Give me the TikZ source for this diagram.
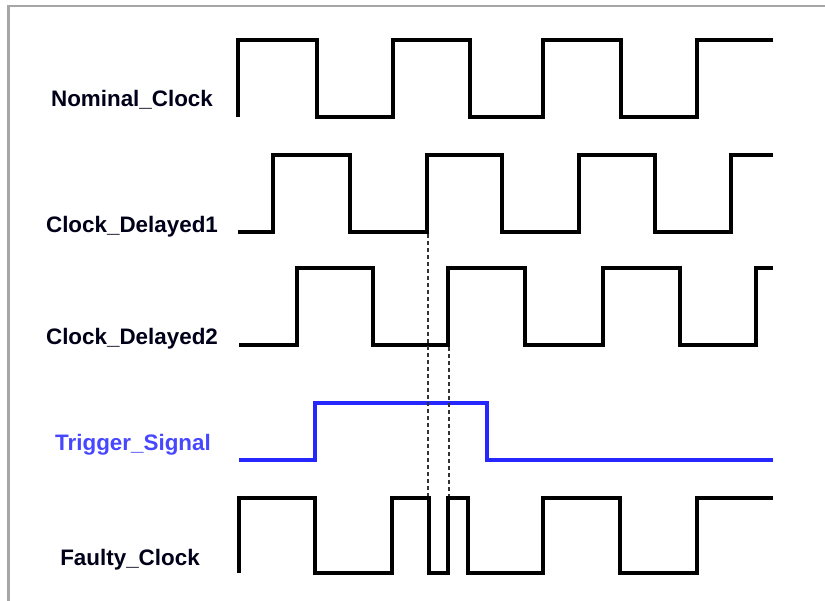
\documentclass[tikz,border=0pt]{standalone}
\usepackage{fontspec}
\setmainfont{Liberation Sans}
\usepackage{tikz}

\begin{document}
\begin{tikzpicture}[x=1pt,y=-1pt,
		wave/.style={draw=black,line width=4pt},
		trig wave/.style={draw=trigblue,line width=4pt},
		guide/.style={draw=black!80,line width=2pt,dash pattern=on 4pt off 3pt},
		sig node/.style={anchor=base,inner sep=0pt,font=\fontsize{22.4}{26}\selectfont\bfseries}]
	\definecolor{trigblue}{RGB}{38,38,255}
	\useasboundingbox (0,0) rectangle (825,601);
	% frame
	\draw[black!35,line width=2.5pt] (8.5,601) -- (8.5,6) -- (825,6);
	% labels
	\node[sig node,text=black!90!blue] (nom) at (132,107) {Nominal\_Clock};
	\node[sig node,text=black!90!blue] (del1) at (132,233) {Clock\_Delayed1};
	\node[sig node,text=black!90!blue] (del2) at (132,345) {Clock\_Delayed2};
	\node[sig node,text=trigblue!85] (trig) at (133,451) {Trigger\_Signal};
	\node[sig node,text=black!90!blue] (fault) at (130,565) {Faulty\_Clock};
	% waveforms
	\draw[wave] (238,117) -- (238,40) -- (317,40) -- (317,117) -- (393,117) -- (393,40)
		-- (470,40) -- (470,117) -- (543,117) -- (543,40) -- (621,40) -- (621,117)
		-- (697,117) -- (697,40) -- (773,40);
	\draw[wave] (238,232) -- (273,232) -- (273,155) -- (350,155) -- (350,232) -- (427,232)
		-- (427,155) -- (502,155) -- (502,232) -- (579,232) -- (579,155) -- (655,155)
		-- (655,232) -- (731,232) -- (731,155) -- (773,155);
	\draw[wave] (239,345) -- (297,345) -- (297,268) -- (373,268) -- (373,345) -- (448,345)
		-- (448,268) -- (525,268) -- (525,345) -- (603,345) -- (603,268) -- (680,268)
		-- (680,345) -- (756,345) -- (756,268) -- (773,268);
	\draw[trig wave] (239,460) -- (315,460) -- (315,403) -- (487,403) -- (487,460) -- (773,460);
	\draw[wave] (239,573) -- (239,498) -- (315,498) -- (315,573) -- (392,573) -- (392,498)
		-- (429,498) -- (429,573) -- (448,573) -- (448,498) -- (468,498) -- (468,573)
		-- (543,573) -- (543,498) -- (620,498) -- (620,573) -- (697,573) -- (697,498) -- (773,498);
	% glitch markers
	\coordinate (d1edge) at (428,234);
	\coordinate (d2edge) at (449,347);
	\coordinate (f1edge) at (428,496);
	\coordinate (f2edge) at (449,496);
	\path[guide]
		(d1edge) edge (f1edge)
		(d2edge) edge (f2edge);
\end{tikzpicture}
\end{document}
